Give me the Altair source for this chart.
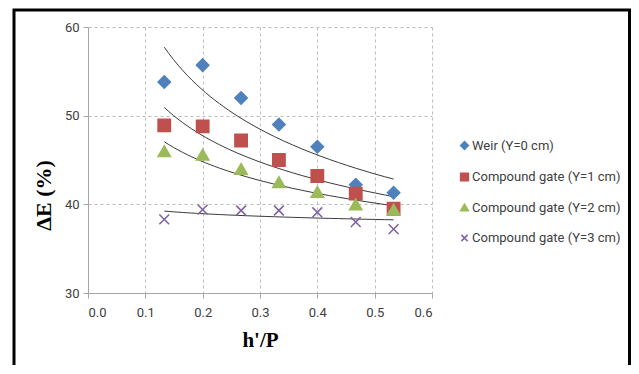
import altair as alt
import pandas as pd

x_vals = [0.133, 0.2, 0.267, 0.333, 0.4, 0.467, 0.533]
series_names = ["Weir (Y=0 cm)", "Compound gate (Y=1 cm)", "Compound gate (Y=2 cm)", "Compound gate (Y=3 cm)"]
weir = [53.8, 55.7, 52.0, 49.0, 46.5, 42.2, 41.3]
gate1 = [48.9, 48.8, 47.2, 45.0, 43.2, 41.2, 39.5]
gate2 = [46.0, 45.6, 44.0, 42.5, 41.4, 40.0, 39.4]
gate3 = [38.3, 39.4, 39.3, 39.3, 39.1, 38.0, 37.2]

colors = ["#4F81BD", "#C0504D", "#9BBB59", "#8064A2"]
shapes = ["diamond", "square", "triangle-up", "M-0.8,-0.8L0.8,0.8M-0.8,0.8L0.8,-0.8"]

rows = []
for name, vals in zip(series_names, [weir, gate1, gate2, gate3]):
    for xv, yv in zip(x_vals, vals):
        rows.append({"x": xv, "y": yv, "series": name})
df = pd.DataFrame(rows)

label_font = "Liberation Sans Narrow, Roboto, sans-serif"

xs = alt.Scale(domain=[0, 0.6], nice=False)
ys = alt.Scale(domain=[30, 60], nice=False)
col = alt.Scale(domain=series_names, range=colors)
shp = alt.Scale(domain=series_names, range=shapes)

base = alt.Chart(df)

points = base.mark_point(filled=True, size=150, strokeWidth=1.6, opacity=1).encode(
    x=alt.X("x:Q", scale=xs, axis=alt.Axis(
        title="h'/P", values=[0, 0.1, 0.2, 0.3, 0.4, 0.5, 0.6], format=".1f",
        titleFont="Liberation Serif", titleFontSize=21, titleFontWeight="bold",
        titleColor="#000000", titlePadding=10, labelPadding=8)),
    y=alt.Y("y:Q", scale=ys, axis=alt.Axis(
        title="ΔE (%)", values=[30, 40, 50, 60], format="d",
        titleFont="Liberation Serif", titleFontSize=22, titleFontWeight="bold",
        titleColor="#000000", titleX=-45, titleY=168, titleAngle=-90,
        titleBaseline="middle", titleAlign="center", labelPadding=4)),
    color=alt.Color("series:N", scale=col, sort=series_names, title=None),
    stroke=alt.Stroke("series:N", scale=col, sort=series_names, title=None),
    shape=alt.Shape("series:N", scale=shp, sort=series_names, title=None),
)

trend = base.transform_regression(
    "x", "y", groupby=["series"], method="pow"
).mark_line(color="#3a3a3a", strokeWidth=1).encode(
    x=alt.X("x:Q", scale=xs),
    y=alt.Y("y:Q", scale=ys),
    detail="series:N",
)

frame = alt.Chart(pd.DataFrame({"a": [0]})).mark_rect(
    fill=None, stroke="#000000", strokeWidth=3, clip=False
).encode(
    x=alt.value(-74), x2=alt.value(541.5), y=alt.value(-17), y2=alt.value(400)
)

chart = alt.layer(frame, trend, points).properties(
    width=344, height=266,
    padding={"left": 80, "top": 19, "right": 199, "bottom": 72},
    autosize=alt.AutoSizeParams(type="none"),
).configure_view(stroke=None).configure_axis(
    grid=True, gridDash=[3, 3], gridColor="#bdbdbd", gridWidth=1,
    domainColor="#a6a6a6", tickColor="#a6a6a6", tickSize=5,
    labelFont=label_font, labelFontSize=13, labelColor="#404040",
).configure_legend(
    orient="none", legendX=370, legendY=112,
    labelFont=label_font, labelFontSize=13, labelColor="#404040",
    labelLimit=0, symbolSize=60, rowPadding=16.5, labelOffset=1,
    symbolStrokeWidth=1.5,
)

chart.save("out.html", embed_options={"renderer": "svg", "actions": False})
